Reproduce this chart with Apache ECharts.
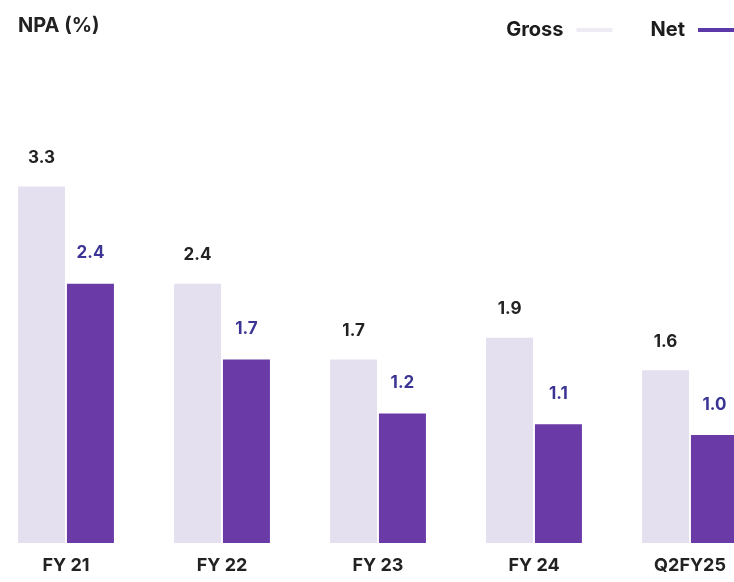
<!DOCTYPE html>
<html>
<head>
<meta charset="utf-8">
<script src="https://cdn.jsdelivr.net/npm/echarts@6/dist/echarts.min.js"></script>
<style>
  html, body { margin: 0; padding: 0; background: #ffffff; overflow: hidden; width: 734px; height: 582px; position: relative; }
  /* canvas is a little wider than the page so the outer bars sit close to the edges */
  #chart { position: absolute; left: -12px; top: 0; width: 780px; height: 582px; }
</style>
</head>
<body>
<div id="chart"></div>
<script>
// NPA ratios by period
const categories = ['FY 21', 'FY 22', 'FY 23', 'FY 24', 'Q2FY25'];
const grossNPA = [3.3, 2.4, 1.7, 1.9, 1.6];
const netNPA = [2.4, 1.7, 1.2, 1.1, 1.0];

const FONT = 'Inter, "Open Sans", "DejaVu Sans", sans-serif';
const GROSS_COLOR = '#e4e0f0';
const NET_COLOR = '#6a3ba6';

const chart = echarts.init(document.getElementById('chart'), null, { renderer: 'canvas' });

chart.setOption({
  animation: false,
  backgroundColor: '#ffffff',
  title: {
    text: 'NPA (%)',
    left: 25,
    top: 11,
    textStyle: { fontFamily: FONT, fontSize: 20, fontWeight: 'bold', color: '#222222' }
  },
  legend: {
    right: 29,
    top: 15,
    itemGap: 38,
    itemWidth: 36,
    itemHeight: 4,
    icon: 'rect',
    align: 'right',
    textStyle: { fontFamily: FONT, fontSize: 20, fontWeight: 'bold', color: '#1c1c1c', padding: [0, 8, 0, 0] },
    data: [
      { name: 'Gross', itemStyle: { color: '#eeebf4' } },
      { name: 'Net', itemStyle: { color: '#5b39a8' } }
    ]
  },
  grid: { left: 0, right: 0, top: 57, bottom: 39 },
  xAxis: {
    type: 'category',
    data: categories,
    axisLine: { show: false },
    axisTick: { show: false },
    axisLabel: {
      margin: 14,
      fontFamily: FONT,
      fontSize: 18,
      fontWeight: 'bold',
      color: '#222222'
    }
  },
  yAxis: {
    type: 'value',
    min: 0,
    max: 4.5,
    show: false,
    splitLine: { show: false }
  },
  series: [
    {
      name: 'Gross',
      type: 'bar',
      data: grossNPA,
      barWidth: 47,
      barGap: '4%',
      itemStyle: { color: GROSS_COLOR },
      label: {
        show: true,
        position: 'top',
        distance: 20,
        fontFamily: FONT,
        fontSize: 17,
        fontWeight: 'bold',
        color: '#222222',
        formatter: p => p.value.toFixed(1)
      }
    },
    {
      name: 'Net',
      type: 'bar',
      data: netNPA,
      barWidth: 47,
      itemStyle: { color: NET_COLOR },
      label: {
        show: true,
        position: 'top',
        distance: 22,
        fontFamily: FONT,
        fontSize: 17,
        fontWeight: 'bold',
        color: '#3b3494',
        formatter: p => p.value.toFixed(1)
      }
    }
  ]
});
</script>
</body>
</html>
